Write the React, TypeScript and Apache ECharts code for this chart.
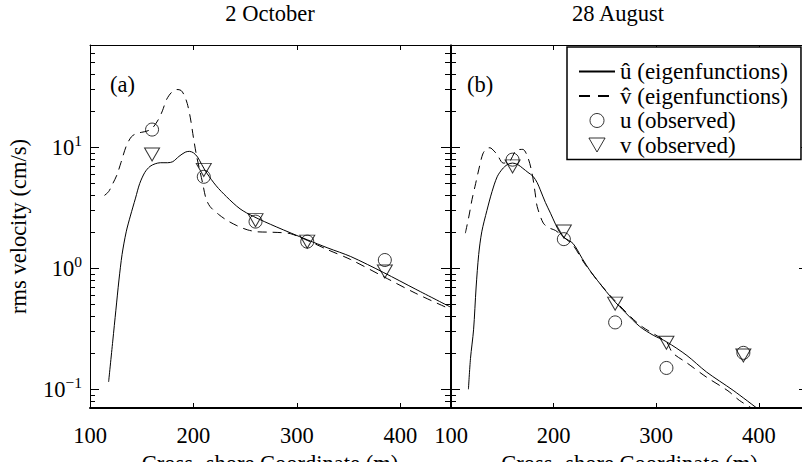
import React, { useEffect, useRef } from 'react';
import * as echarts from 'echarts';

const FONT = "'Liberation Serif', 'Times New Roman', Times, serif";
const FS = 22.5;

// x tick labels (m) and y range (cm/s)
const xTicks = [100, 200, 300, 400];
const xMin = 100;
const xMax = 448;
const yMin = 0.07;
const yMax = 70;
const minorTickValues = [
  0.08, 0.09,
  0.2, 0.3, 0.4, 0.5, 0.6, 0.7, 0.8, 0.9,
  2, 3, 4, 5, 6, 7, 8, 9,
  20, 30, 40, 50, 60,
];

// Panel (a): 2 October
const uHatA: [number, number][] = [
  [118, 0.115], [122, 0.25], [125, 0.45], [128, 0.8], [131, 1.3], [135, 2.0], [139, 2.7],
  [144, 3.8], [148, 5.0], [153, 6.2], [158, 6.95], [163, 7.3], [168, 7.45], [175, 7.45],
  [180, 7.6], [186, 8.4], [192, 9.1], [196, 9.25], [200, 9.0], [204, 8.3], [208, 7.2],
  [213, 6.1], [222, 4.8], [232, 3.9], [245, 3.1], [258, 2.68], [280, 2.2], [310, 1.72],
  [330, 1.47], [352, 1.25], [384, 0.92], [415, 0.67], [448, 0.48],
];
const vHatA: [number, number][] = [
  [114, 4.0], [118, 4.3], [122, 5.0], [126, 5.9], [130, 7.5], [135, 10.2], [140, 12.2],
  [145, 13.0], [150, 13.3], [155, 13.6], [160, 14.3], [166, 16.9], [170, 20], [174, 24.8],
  [179, 28.5], [184, 30], [188, 29.5], [191, 27], [194, 23], [197, 17.5], [200, 12],
  [203, 8.5], [206, 6.5], [209, 5.0], [212, 3.8], [216, 3.24], [224, 2.8], [232, 2.5],
  [242, 2.25], [252, 2.08], [262, 2.0], [271, 1.99], [285, 1.97], [294, 1.93], [310, 1.7],
  [330, 1.42], [352, 1.18], [384, 0.85], [415, 0.62], [448, 0.46],
];
const uObsA: [number, number][] = [[160, 14.0], [210, 5.7], [260, 2.43], [310, 1.66], [385, 1.17]];
const vObsA: [number, number][] = [[160, 8.7], [210, 6.5], [260, 2.5], [310, 1.66], [385, 0.94]];

// Panel (b): 28 August
const uHatB: [number, number][] = [
  [117, 0.1], [119, 0.18], [122, 0.31], [124.5, 0.7], [127, 1.3], [130, 2.0], [135, 3.0],
  [140, 4.3], [145, 5.7], [150, 6.6], [155, 7.2], [160, 7.4], [165, 7.2], [170, 6.7],
  [175, 6.2], [180, 5.75], [184, 5.1], [187, 4.45], [192, 3.5], [197, 2.85], [202, 2.3],
  [206, 1.98], [210, 1.8], [219, 1.6], [228, 1.2], [235, 0.97], [245, 0.75], [258, 0.55],
  [270, 0.43], [284, 0.33], [297, 0.28], [310, 0.247], [330, 0.19], [349, 0.139],
  [375, 0.098], [398, 0.07],
];
const vHatB: [number, number][] = [
  [114, 1.95], [117.5, 2.7], [120.5, 3.7], [124, 5.0], [127, 6.5], [131, 8.8], [135, 9.8],
  [138, 9.9], [142, 9.3], [145, 8.7], [151, 7.4], [157, 7.6], [164, 9.5], [170, 9.6],
  [175, 8.2], [179, 6.1], [182, 4.2], [184, 3.24], [190, 2.36], [196, 2.15], [202, 2.05],
  [210, 1.8], [219, 1.55], [230, 1.1], [245, 0.75], [258, 0.56], [284, 0.34], [310, 0.245],
  [316, 0.2], [330, 0.165], [349, 0.126], [370, 0.097], [381, 0.081], [393, 0.07],
];
const uObsB: [number, number][] = [[160, 7.9], [210, 1.74], [260, 0.357], [310, 0.15], [385, 0.2]];
const vObsB: [number, number][] = [[160, 6.95], [210, 2.01], [260, 0.51], [310, 0.242], [385, 0.19]];

const panelTitles = ['2 October', '28 August'];
const panelTags = ['(a)', '(b)'];
const seriesNames = ['û (eigenfunctions)', 'v\u0302 (eigenfunctions)', 'u (observed)', 'v (observed)'];
const xName = 'Cross\u2212shore Coordinate (m)';
const yName = 'rms velocity (cm/s)';

const TRI = 'path://M0,0L10,0L5,8.66Z';
const hollow = { color: 'rgba(0,0,0,0)', borderColor: '#000', borderWidth: 1 };
const noSymbol = { color: 'rgba(0,0,0,0)', borderColor: 'rgba(0,0,0,0)', borderWidth: 0, opacity: 0 };

function yLabel(v: number): string {
  const l = Math.log10(v);
  const e = Math.round(l);
  if (Math.abs(l - e) > 1e-6) return '';
  return '10{sup|' + (e < 0 ? '\u2212' + -e : String(e)) + '}';
}

function xLabel(v: number): string {
  return xTicks.some((t) => Math.abs(t - v) < 1e-6) ? String(Math.round(v)) : '';
}

function buildOption(): any {
  const grids = [
    { left: 90, top: 45, width: 360, height: 363, containLabel: false, outerBoundsMode: 'none' },
    { left: 451, top: 45, width: 357, height: 363, containLabel: false, outerBoundsMode: 'none' },
  ];
  const xAxes: any[] = [];
  const yAxes: any[] = [];
  grids.forEach((_, g) => {
    xAxes.push({
      type: 'value', gridIndex: g, position: 'bottom', min: xMin, max: xMax, interval: 100,
      axisLine: { show: true, onZero: false, lineStyle: { color: '#000', width: 2 } },
      axisTick: { show: true, inside: true, length: 5, lineStyle: { color: '#000', width: 1 } },
      axisLabel: { fontSize: FS, fontFamily: FONT, color: '#000', margin: 16, formatter: xLabel },
      splitLine: { show: false },
      name: xName, nameLocation: 'middle', nameGap: 31,
      nameTextStyle: { fontSize: FS, fontFamily: FONT, color: '#000' },
    });
    xAxes.push({
      type: 'value', gridIndex: g, position: 'top', min: xMin, max: xMax, interval: 100,
      axisLine: { show: true, onZero: false, lineStyle: { color: '#000', width: 1 } },
      axisTick: { show: true, inside: true, length: 5, lineStyle: { color: '#000', width: 1 } },
      axisLabel: { show: false },
      splitLine: { show: false },
    });
    // main log axes (left with labels, right frame)
    yAxes.push({
      type: 'log', logBase: 10, gridIndex: g, position: 'left', min: yMin, max: yMax,
      axisLine: { show: true, lineStyle: { color: '#000', width: 1 } },
      axisTick: { show: true, inside: true, length: 9, lineStyle: { color: '#000', width: 1 } },
      axisLabel: {
        show: g === 0, fontSize: FS, fontFamily: FONT, color: '#000', margin: 8, formatter: yLabel,
        rich: { sup: { fontSize: 15.5, fontFamily: FONT, color: '#000', padding: [0, 0, 13, 0] } },
      },
      splitLine: { show: false },
      name: g === 0 ? yName : '', nameLocation: 'middle', nameGap: 60,
      nameTextStyle: { fontSize: FS, fontFamily: FONT, color: '#000' },
    });
    yAxes.push({
      type: 'log', logBase: 10, gridIndex: g, position: 'right', min: yMin, max: yMax,
      axisLine: { show: true, lineStyle: { color: '#000', width: 1 } },
      axisTick: { show: true, inside: true, length: 9, lineStyle: { color: '#000', width: 1 } },
      axisLabel: { show: false },
      splitLine: { show: false },
    });
    // minor log ticks (2..9 per decade) on both sides
    ['left', 'right'].forEach((pos) => {
      yAxes.push({
        type: 'log', logBase: 10, gridIndex: g, position: pos, min: yMin, max: yMax,
        axisLine: { show: false },
        axisTick: { show: true, inside: true, length: 5, customValues: minorTickValues, lineStyle: { color: '#000', width: 1 } },
        axisLabel: { show: false },
        splitLine: { show: false },
      });
    });
  });

  const panels = [
    { u: uHatA, v: vHatA, uo: uObsA, vo: vObsA },
    { u: uHatB, v: vHatB, uo: uObsB, vo: vObsB },
  ];
  const series: any[] = [];
  panels.forEach((p, g) => {
    const xi = g * 2;
    const yi = g * 4;
    series.push({
      name: seriesNames[0], type: 'line', xAxisIndex: xi, yAxisIndex: yi, data: p.u,
      symbol: 'none', showSymbol: false, smooth: 0.3, lineStyle: { color: '#000', width: 1, type: 'solid' },
      itemStyle: { color: '#000' },
    });
    series.push({
      name: seriesNames[1], type: 'line', xAxisIndex: xi, yAxisIndex: yi, data: p.v,
      symbol: 'none', showSymbol: false, smooth: 0.3, lineStyle: { color: '#000', width: 1, type: [9, 6] },
      itemStyle: { color: '#000' },
    });
    series.push({
      name: seriesNames[2], type: 'scatter', xAxisIndex: xi, yAxisIndex: yi, data: p.uo,
      symbol: 'circle', symbolSize: 13, itemStyle: hollow, z: 3,
    });
    series.push({
      name: seriesNames[3], type: 'scatter', xAxisIndex: xi, yAxisIndex: yi, data: p.vo,
      symbol: TRI, symbolSize: [15, 13], itemStyle: hollow, z: 4,
    });
  });

  const gText = (text: string, x: number, y: number, align: string) => ({
    type: 'text', x, y,
    style: { text, fontSize: FS, fontFamily: FONT, fill: '#000', align, verticalAlign: 'middle' },
  });

  return {
    animation: false,
    backgroundColor: '#fff',
    grid: grids,
    xAxis: xAxes,
    yAxis: yAxes,
    legend: {
      show: true, orient: 'vertical', left: 567, top: 47, padding: [13, 13, 3, 11],
      itemGap: 1.5, itemWidth: 36, itemHeight: 14, borderColor: '#000', borderWidth: 1.5,
      backgroundColor: '#fff', selectedMode: false,
      textStyle: { fontSize: 23, fontFamily: FONT, color: '#000' },
      data: [
        { name: seriesNames[0], itemStyle: noSymbol },
        { name: seriesNames[1], itemStyle: noSymbol, lineStyle: { type: [11, 8] } },
        { name: seriesNames[2], icon: 'circle', itemStyle: hollow },
        { name: seriesNames[3], icon: TRI, itemStyle: hollow },
      ],
    },
    graphic: [
      gText(panelTitles[0], 270, 13, 'center'),
      gText(panelTitles[1], 618, 13, 'center'),
      gText(panelTags[0], 110, 84, 'left'),
      gText(panelTags[1], 467, 84, 'left'),
    ],
    series,
  };
}

export default function App() {
  const ref = useRef<HTMLDivElement>(null);
  useEffect(() => {
    if (!ref.current) return;
    const chart = echarts.init(ref.current, undefined, { renderer: 'svg' });
    chart.setOption(buildOption());
    return () => chart.dispose();
  }, []);
  return (
    <>
      <style>{`.chart-host text, .chart-host tspan { font-family: 'Liberation Serif', 'Times New Roman', Times, serif !important; }`}</style>
      <div className="chart-host" ref={ref} style={{ position: 'fixed', left: 0, top: 0, width: 802, height: 462 }} />
    </>
  );
}
